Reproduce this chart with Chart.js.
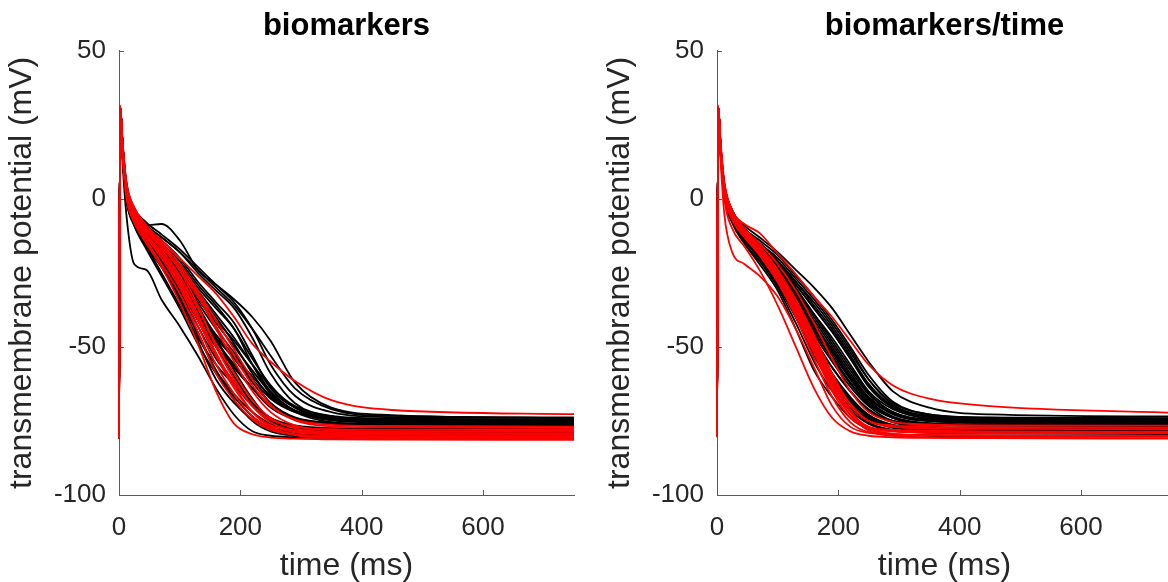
<!DOCTYPE html>
<html>
<head>
<meta charset="utf-8">
<script src="https://cdn.jsdelivr.net/npm/chart.js@4.4.1/dist/chart.umd.min.js"></script>
<style>
  html, body { margin: 0; padding: 0; background: #fff; overflow: hidden; width: 1168px; height: 582px; }
  .panel { position: absolute; top: 0; width: 600px; height: 582px; }
</style>
</head>
<body>
<div class="panel" style="left:0px"><canvas id="leftChart" width="600" height="582"></canvas></div>
<div class="panel" style="left:598px"><canvas id="rightChart" width="600" height="582"></canvas></div>
<script>
// sample times (ms) shared by every trace
const timeMs = [0, 2, 6, 12, 25, 45, 70, 100, 130, 160, 190, 220, 250, 290, 350, 450, 750];

const xTicks = [0, 200, 400, 600];
const yTicks = [-100, -50, 0, 50];

// left panel: "biomarkers"
const leftBlack = [
  [-81, 30, 12, -5, -22, -24, -34, -43, -53, -64, -73, -78.5, -80, -80.5, -80.7, -80.8, -81],
  [-76, 31, 18, 4, -4, -9, -8.5, -14, -24, -29, -34, -40, -48, -62, -70.5, -73, -74],
  [-75, 31, 17, 3, -6, -12, -17, -24, -32, -40, -49, -59, -67, -71.5, -74.5, -75.5, -75.7],
  [-76, 31, 16, 2, -7, -13, -19, -27, -37, -48, -57, -64, -70, -74, -75.7, -76.2, -76.3],
  [-75.5, 31, 18, 5, -5, -10, -14, -20, -28, -35, -42, -53, -64, -70.5, -74, -75, -75.2],
  [-77, 30, 15, 1, -8, -15, -21, -30, -41, -53, -62, -69, -74, -77, -78.3, -78.7, -78.8],
  [-80, 30, 14, 0, -9, -16, -23, -32, -45, -58, -68, -75, -78.5, -80, -80.5, -80.7, -80.8],
  [-76, 31, 17, 4, -5, -11, -16, -22, -30, -37, -44, -56, -66, -72, -75.4, -76.2, -76.4],
  [-75, 31, 18, 5, -4, -9, -13, -18, -25, -31, -37, -47, -59, -69, -73.5, -74.8, -75],
  [-78, 30, 16, 2, -7, -14, -20, -28, -39, -50, -60, -69, -74.5, -77.3, -78.2, -78.6, -78.7],
  [-74, 31, 19, 6, -3, -8, -12, -17, -23, -29, -35, -44, -56, -66.5, -72, -73.7, -74],
  [-76, 31, 17, 3, -6, -12, -18, -26, -35, -44, -52, -61, -69, -74, -76, -76.5, -76.6],
  [-79, 30, 15, 1, -8, -14, -19, -26, -36, -47, -58, -67.5, -75, -78.3, -79.2, -79.6, -79.7],
  [-75, 31, 18, 4, -5, -11, -17, -25, -34, -42, -50, -58, -65.5, -71.5, -74.3, -75, -75.2],
  [-77, 30, 16, 2, -7, -14, -22, -33, -46, -58, -66, -72, -76, -77.7, -78.2, -78.5, -78.6],
  [-76, 31, 17, 4, -5, -12, -19, -28, -38, -48, -56, -64, -70.5, -74.5, -76.1, -76.6, -76.7],
  [-74.5, 31, 18, 5, -4, -10, -15, -21, -29, -36, -44, -54, -63, -70.5, -73.8, -74.6, -74.8],
  [-78, 30, 15, 1, -8, -15, -23, -34, -48, -61, -69, -74.5, -77.5, -78.6, -79, -79.2, -79.3],
  [-75, 31, 17, 3, -6, -13, -20, -29, -39, -47, -54, -61, -67.5, -72, -74.2, -75, -75.3],
  [-76.5, 31, 16, 3, -6, -13, -21, -31, -43, -54, -62, -69, -74, -76.5, -77.4, -77.5, -77.6],
  [-74, 31, 18, 5, -4, -9, -13, -18, -24, -30, -36, -44, -53, -64, -71, -73.3, -73.8],
  [-75.5, 31, 17, 4, -5, -11, -16, -23, -31, -39, -47, -56, -65, -71.5, -74.8, -75.6, -75.8],
  [-76, 31, 17, 3, -6, -13, -20, -30, -41, -50, -57, -64, -70, -74, -76, -76.3, -76.4],
  [-75, 31, 16, 2, -7, -14, -22, -31, -40, -46, -53, -60, -66.5, -71.5, -74.3, -75, -75.2],
  [-77.5, 30, 15, 1, -8, -16, -25, -36, -47, -56, -63, -70, -75, -77.3, -78, -78.2, -78.3],
  [-76, 31, 18, 4, -5, -11, -18, -27, -37, -46, -54, -62, -69, -73.8, -75.6, -76.1, -76.3],
  [-74.5, 31, 18, 5, -4, -10, -16, -24, -33, -41, -48, -56, -63.5, -70, -73.3, -74.2, -74.5],
  [-79.5, 30, 14, 0, -9, -17, -26, -37, -49, -59, -67, -73.5, -77.5, -79.3, -79.8, -80, -80.1]
];
const leftRed = [
  [-72.7, 31.5, 19, 6, -3, -9, -14, -20, -26, -32, -40, -49, -55, -61.5, -68, -71.3, -72.7],
  [-81, 31, 15, 1, -8, -15, -23, -35, -49, -65, -76, -79.5, -80.6, -81, -81.2, -81.3, -81.4],
  [-79, 31, 16, 2, -7, -13, -19, -28, -40, -53, -64, -72, -76.5, -78.7, -79.5, -79.7, -79.8],
  [-78, 31, 17, 3, -6, -11, -16, -24, -33, -44, -55, -65, -72, -76.5, -78.2, -78.5, -78.6],
  [-80, 31, 16, 2, -7, -13, -20, -30, -43, -56, -66, -73.5, -77.5, -79.5, -80.3, -80.5, -80.6],
  [-77, 31, 18, 4, -5, -10, -15, -22, -31, -41, -51, -61, -69.5, -74.8, -76.8, -77.2, -77.4],
  [-79.5, 31, 15, 1, -7, -14, -22, -32, -45, -59, -68, -74.5, -78, -79.5, -80, -80.2, -80.3],
  [-78.5, 31, 17, 3, -5, -11, -17, -26, -37, -49, -59, -68, -74, -77.5, -78.7, -79, -79.1],
  [-76.5, 31, 18, 5, -4, -10, -16, -23, -32, -43, -53, -63, -70, -74.5, -76.3, -76.7, -76.9],
  [-80.5, 31, 16, 2, -6, -12, -18, -27, -39, -52, -63, -72, -77, -79.8, -80.7, -80.9, -81],
  [-77.5, 31, 17, 4, -5, -12, -19, -29, -41, -53, -62, -70, -74.5, -77, -77.8, -78, -78.1],
  [-79, 31, 18, 5, -3, -9, -15, -24, -36, -50, -61, -70, -75.5, -78.3, -79.1, -79.3, -79.4]
];

// right panel: "biomarkers/time"
const rightBlack = [
  [-73.5, 31, 18, 5, -4, -9, -13, -18, -24, -30, -37, -46, -55, -65, -70.5, -72.8, -73.5],
  [-74, 31, 17, 4, -5, -11, -15, -21, -28, -35, -43, -52, -61, -69, -72.8, -73.9, -74.2],
  [-75, 31, 17, 3, -6, -12, -17, -23, -31, -39, -47, -56, -65, -71, -74.2, -75, -75.2],
  [-74.5, 31, 17, 4, -5, -11, -16, -22, -29, -37, -45, -54, -63.5, -70.5, -73.6, -74.5, -74.7],
  [-76, 31, 16, 2, -7, -13, -18, -25, -34, -44, -53, -62, -69, -74, -75.8, -76.3, -76.4],
  [-75.5, 31, 17, 3, -6, -12, -17, -24, -32, -41, -50, -59, -67, -72.5, -75, -75.6, -75.8],
  [-77, 31, 16, 2, -7, -14, -19, -26, -36, -47, -57, -65, -71.5, -75.5, -77, -77.4, -77.5],
  [-76.5, 31, 16, 3, -6, -12, -17, -24, -33, -43, -52, -61, -68.5, -74, -76, -76.6, -76.7],
  [-78, 31, 16, 2, -7, -14, -20, -28, -39, -51, -61, -68.5, -74, -77, -78, -78.3, -78.4],
  [-75, 31, 17, 4, -5, -11, -16, -22, -30, -39, -48, -57, -65.5, -72, -74.5, -75, -75.2],
  [-74.5, 31, 18, 5, -4, -10, -15, -21, -28, -36, -44, -53, -62.5, -70, -73.5, -74.3, -74.6],
  [-76, 31, 16, 3, -6, -13, -18, -26, -35, -45, -54, -62.5, -69.5, -74, -75.8, -76.3, -76.4],
  [-79, 31, 15, 1, -8, -15, -21, -30, -42, -55, -65, -71.5, -76, -78.3, -79, -79.3, -79.4],
  [-75.5, 31, 17, 4, -5, -11, -16, -23, -31, -40, -49, -58, -66, -72, -75, -75.6, -75.7],
  [-77.5, 31, 16, 2, -7, -13, -19, -27, -37, -49, -59, -67, -73, -76.5, -77.6, -77.9, -78],
  [-76, 31, 17, 3, -6, -12, -18, -25, -34, -43, -51, -60, -68, -73.5, -75.8, -76.2, -76.3],
  [-80, 31, 15, 1, -8, -15, -22, -31, -44, -58, -67, -74, -77.8, -79.5, -80, -80.1, -80.2],
  [-75, 31, 17, 4, -5, -10, -15, -20, -27, -34, -42, -51, -61, -69.5, -73.8, -74.8, -75],
  [-76.5, 31, 16, 3, -6, -12, -18, -26, -36, -46, -55, -63.5, -70, -75, -76.3, -76.6, -76.7],
  [-77, 31, 16, 2, -7, -13, -19, -27, -38, -50, -60, -68, -73.5, -76.5, -77.2, -77.5, -77.6],
  [-74, 31, 18, 5, -4, -10, -14, -19, -26, -33, -41, -50, -59.5, -68.5, -72.8, -73.9, -74.1],
  [-78.5, 31, 16, 2, -7, -14, -20, -29, -40, -53, -63, -70.5, -75.5, -78, -78.7, -79, -79.1],
  [-75, 31, 17, 3, -6, -12, -17, -25, -34, -44, -52, -60.5, -67.5, -72.5, -74.7, -75.1, -75.3],
  [-76, 31, 16, 3, -6, -13, -19, -27, -37, -48, -57, -65, -71, -75, -76, -76.3, -76.4],
  [-74, 31, 18, 5, -4, -10, -15, -21, -29, -37, -45, -54, -63, -70, -73.2, -73.9, -74.1],
  [-77, 31, 16, 2, -7, -13, -19, -28, -39, -51, -60, -67.5, -73, -76.3, -77.2, -77.5, -77.6],
  [-75.5, 31, 17, 4, -5, -11, -16, -23, -32, -42, -51, -60, -67, -72.8, -75, -75.4, -75.6],
  [-78, 31, 16, 2, -7, -14, -20, -29, -40, -52, -62, -69.5, -74.5, -77.3, -78.1, -78.4, -78.5]
];
const rightRed = [
  [-72.2, 31.5, 19, 6, -4, -8.5, -11.5, -18.5, -25.5, -33, -40, -48, -56, -63, -67.5, -70, -72.2],
  [-80, 31, 15, 0, -10, -16, -24, -36, -50, -64, -74, -78.5, -80, -80.5, -80.7, -80.8, -81],
  [-79, 31, 13, -5, -18, -22, -26, -33, -44, -57, -70, -77, -79, -79.5, -79.8, -80, -80.2],
  [-78, 31, 17, 3, -6, -12, -18, -27, -38, -51, -64, -73, -77, -78, -78.3, -78.5, -78.6],
  [-79.5, 31, 16, 2, -7, -13, -19, -28, -40, -54, -67, -75.5, -78.8, -79.5, -79.8, -80, -80.1],
  [-77, 31, 17, 4, -5, -11, -17, -25, -35, -47, -60, -70, -75, -76.5, -77, -77.2, -77.3],
  [-80.5, 31, 16, 2, -6, -12, -18, -26, -37, -50, -63, -73, -78.3, -80, -80.5, -80.7, -80.8],
  [-78.5, 31, 17, 3, -6, -12, -19, -28, -39, -52, -65, -74, -77.5, -78.4, -78.7, -78.9, -79],
  [-76.5, 31, 18, 5, -4, -10, -15, -22, -31, -42, -54, -65, -72, -75.3, -76.2, -76.5, -76.6],
  [-79, 31, 16, 3, -5, -11, -17, -25, -36, -49, -62, -72, -77, -78.5, -78.9, -79.1, -79.2],
  [-77.5, 31, 17, 4, -5, -11, -16, -24, -34, -46, -59, -69.5, -75, -77, -77.5, -77.7, -77.8],
  [-80, 31, 17, 4, -4, -10, -16, -24, -35, -48, -61, -71.5, -77.5, -79.3, -79.8, -80, -80.1]
];

const fontFamily = "'Liberation Sans', Arial, Helvetica, sans-serif";
const axisColor = '#5a5a5a';
const textColor = '#262626';

// MATLAB-style ticks pointing into the plot
const inwardTicks = {
  id: 'inwardTicks',
  beforeDatasetsDraw(chart) {
    const { ctx, chartArea: a, scales: { x, y } } = chart;
    ctx.save();
    ctx.strokeStyle = axisColor;
    ctx.lineWidth = 1;
    ctx.beginPath();
    x.ticks.forEach(t => {
      const px = Math.round(x.getPixelForValue(t.value)) + 0.5;
      ctx.moveTo(px, a.bottom);
      ctx.lineTo(px, a.bottom - 5);
    });
    y.ticks.forEach(t => {
      const py = Math.round(y.getPixelForValue(t.value)) + 0.5;
      ctx.moveTo(a.left, py);
      ctx.lineTo(a.left + 5, py);
    });
    ctx.stroke();
    ctx.restore();
  }
};

function traceSets(traces, color) {
  return traces.map(v => ({
    data: timeMs.map((t, i) => ({ x: t, y: v[i] })),
    borderColor: color,
    borderWidth: 1.8,
    pointRadius: 0,
    fill: false,
    clip: 3,
    cubicInterpolationMode: 'monotone'
  }));
}

function makePanel(id, title, black, red) {
  const ctx = document.getElementById(id).getContext('2d');
  return new Chart(ctx, {
    type: 'line',
    // red first so it is painted on top of the black traces
    data: { datasets: [...traceSets(red, '#ff0000'), ...traceSets(black, '#000000')] },
    options: {
      responsive: false,
      animation: false,
      devicePixelRatio: 1,
      layout: { padding: { left: 0, right: 26, top: 0, bottom: 0 } },
      plugins: {
        legend: { display: false },
        tooltip: { enabled: false },
        title: {
          display: true,
          text: title,
          fullSize: false,
          color: '#000',
          font: { family: fontFamily, size: 31, weight: 'bold' },
          padding: { top: 8, bottom: 5.5 }
        }
      },
      scales: {
        x: {
          type: 'linear',
          min: 0,
          max: 750,
          afterBuildTicks: s => { s.ticks = xTicks.map(v => ({ value: v })); },
          afterFit: s => { s.height = 87; },
          ticks: {
            color: textColor,
            font: { family: fontFamily, size: 26 },
            padding: 17,
            maxRotation: 0
          },
          grid: { display: false, drawTicks: false },
          border: { display: true, color: axisColor, width: 1 },
          title: {
            display: true,
            text: 'time (ms)',
            color: textColor,
            font: { family: fontFamily, size: 32 },
            padding: { top: 0, bottom: -3 }
          }
        },
        y: {
          type: 'linear',
          min: -100,
          max: 50,
          afterBuildTicks: s => { s.ticks = yTicks.map(v => ({ value: v })); },
          afterFit: s => { s.width = 119; },
          ticks: {
            color: textColor,
            font: { family: fontFamily, size: 26 },
            padding: 13
          },
          grid: { display: false, drawTicks: false },
          border: { display: true, color: axisColor, width: 1 },
          title: {
            display: true,
            text: 'transmembrane potential (mV)',
            color: textColor,
            font: { family: fontFamily, size: 32 },
            padding: { top: 3, bottom: 0 }
          }
        }
      }
    },
    plugins: [inwardTicks]
  });
}

makePanel('leftChart', 'biomarkers', leftBlack, leftRed);
makePanel('rightChart', 'biomarkers/time', rightBlack, rightRed);
</script>
</body>
</html>
